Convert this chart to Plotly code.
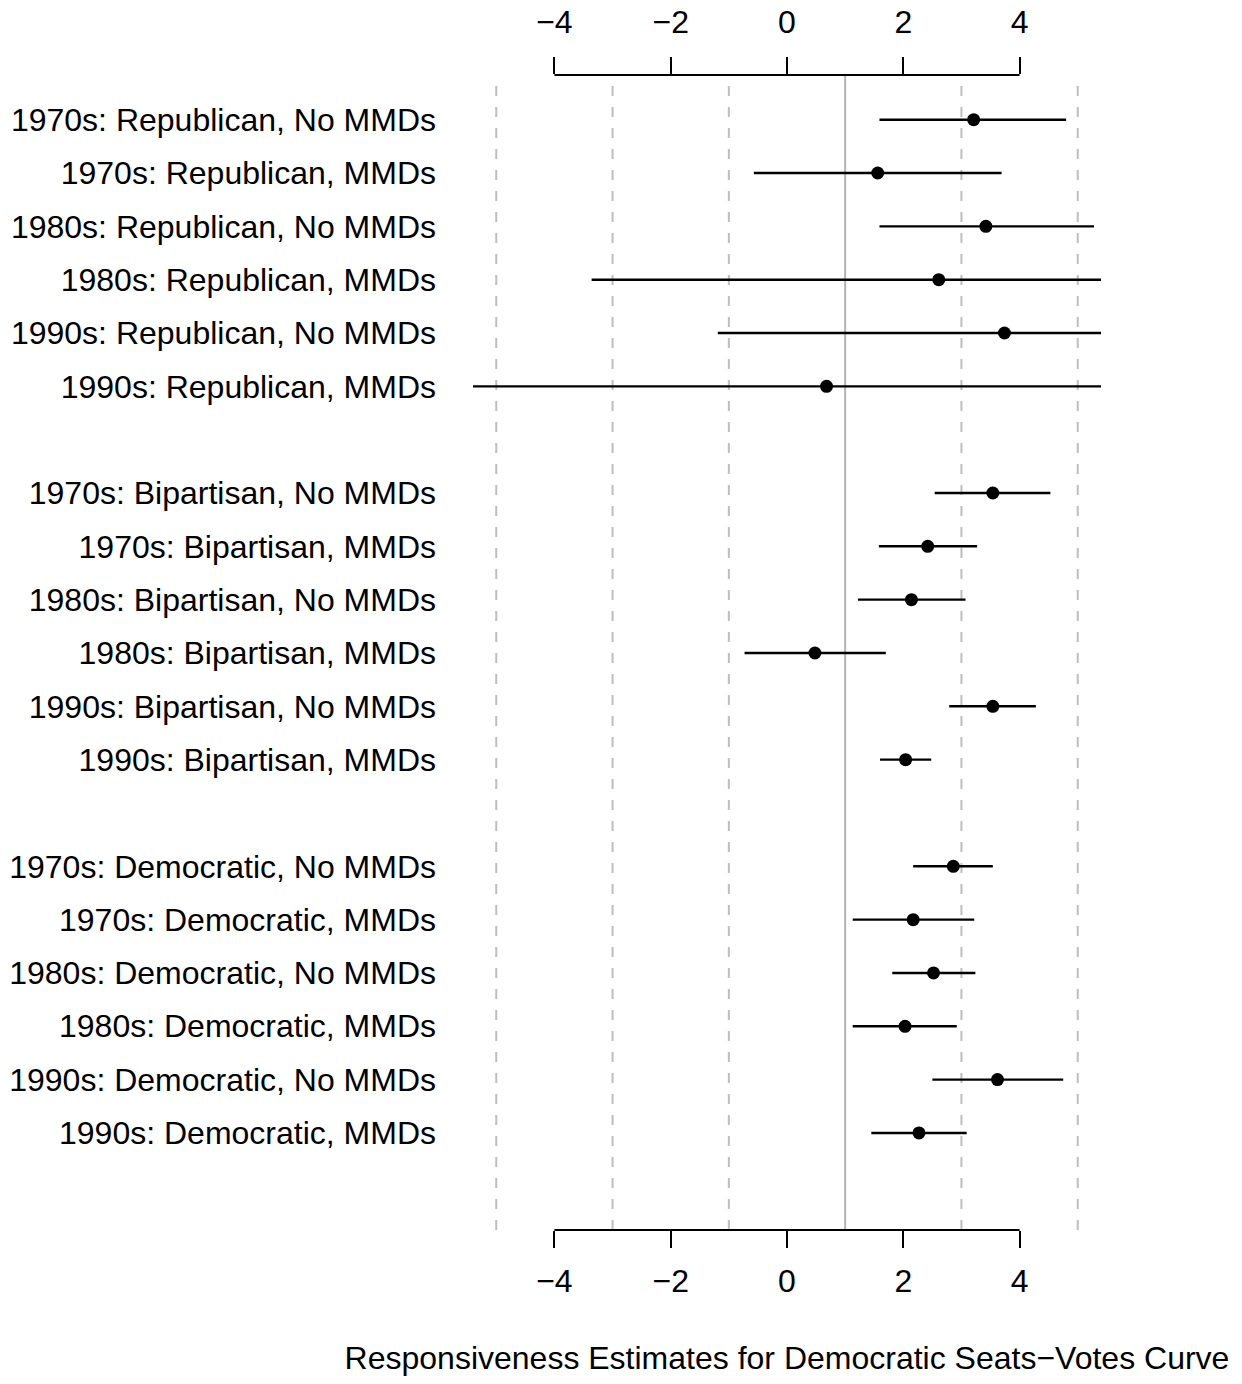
import plotly.graph_objects as go

# Row labels, grouped by redistricting plan type (top to bottom)
labels = [
    "1970s: Republican, No MMDs",
    "1970s: Republican, MMDs",
    "1980s: Republican, No MMDs",
    "1980s: Republican, MMDs",
    "1990s: Republican, No MMDs",
    "1990s: Republican, MMDs",
    "1970s: Bipartisan, No MMDs",
    "1970s: Bipartisan, MMDs",
    "1980s: Bipartisan, No MMDs",
    "1980s: Bipartisan, MMDs",
    "1990s: Bipartisan, No MMDs",
    "1990s: Bipartisan, MMDs",
    "1970s: Democratic, No MMDs",
    "1970s: Democratic, MMDs",
    "1980s: Democratic, No MMDs",
    "1980s: Democratic, MMDs",
    "1990s: Democratic, No MMDs",
    "1990s: Democratic, MMDs",
]

# Point estimates and interval bounds
estimate = [3.21, 1.56, 3.42, 2.61, 3.74, 0.68,
            3.54, 2.42, 2.14, 0.48, 3.54, 2.04,
            2.86, 2.17, 2.52, 2.03, 3.62, 2.27]
lower = [1.59, -0.57, 1.59, -3.36, -1.19, -6.20,
         2.54, 1.58, 1.22, -0.73, 2.79, 1.60,
         2.17, 1.13, 1.81, 1.13, 2.50, 1.45]
upper = [4.80, 3.69, 5.28, 8.58, 8.67, 7.60,
         4.53, 3.27, 3.07, 1.70, 4.28, 2.48,
         3.54, 3.22, 3.24, 2.92, 4.75, 3.09]

group_size = 6
x_ticks = [-4, -2, 0, 2, 4]
dashed_refs = [-5, -3, -1, 3, 5]
solid_ref = 1
x_title = "Responsiveness Estimates for Democratic Seats\u2212Votes Curve"

# Vertical positions: one row per estimate, a blank row between groups
ypos = [i + 1 + i // group_size for i in range(len(labels))]

FONT = "Liberation Sans, Arial, sans-serif"

seg_x, seg_y = [], []
for lo, hi, y in zip(lower, upper, ypos):
    seg_x += [lo, hi, None]
    seg_y += [y, y, None]

fig = go.Figure()
fig.add_trace(go.Scatter(
    x=seg_x, y=seg_y, mode="lines",
    line=dict(color="black", width=2.4),
    hoverinfo="skip", showlegend=False,
))
fig.add_trace(go.Scatter(
    x=estimate, y=ypos, mode="markers",
    marker=dict(color="black", size=13, line=dict(width=0)),
    showlegend=False,
))
# invisible trace to activate the top axis
fig.add_trace(go.Scatter(x=[0], y=[ypos[0]], xaxis="x2", mode="markers",
                         marker=dict(opacity=0), hoverinfo="skip", showlegend=False))

shapes = []
for v in dashed_refs:
    shapes.append(dict(type="line", xref="x", yref="paper", x0=v, x1=v, y0=0, y1=1,
                       line=dict(color="#bebebe", width=2, dash="10px,11px"), layer="below"))
shapes.append(dict(type="line", xref="x", yref="paper", x0=solid_ref, x1=solid_ref, y0=0, y1=1,
                   line=dict(color="#b3b3b3", width=2), layer="below"))
# axis lines spanning only the labelled tick range
for yp in (0, 1):
    shapes.append(dict(type="line", xref="x", yref="paper", x0=x_ticks[0], x1=x_ticks[-1],
                       y0=yp, y1=yp, line=dict(color="black", width=2)))

axis_common = dict(
    range=[-5.4, 5.4], tickvals=x_ticks, ticks="outside", ticklen=17, tickwidth=2,
    tickcolor="black", showline=False, showgrid=False, zeroline=False, automargin=False,
    tickfont=dict(family=FONT, size=32, color="black"),
)

fig.update_layout(
    width=1242, height=1384,
    margin=dict(l=473, r=141, t=75, b=154),
    plot_bgcolor="white", paper_bgcolor="white",
    font=dict(family=FONT, color="black"),
    shapes=shapes,
    xaxis=dict(**axis_common, side="bottom", ticklabelstandoff=6,
               title=dict(text=x_title, font=dict(family=FONT, size=32, color="black"), standoff=48)),
    xaxis2=dict(**axis_common, side="top", overlaying="x", matches="x", ticklabelstandoff=11),
    yaxis=dict(range=[21.82, 0.162], tickvals=ypos, ticktext=labels, ticks="",
               showgrid=False, zeroline=False, showline=False, automargin=False,
               tickfont=dict(family=FONT, size=32, color="black"), ticklabelstandoff=36),
)

fig.write_html("out.html")
